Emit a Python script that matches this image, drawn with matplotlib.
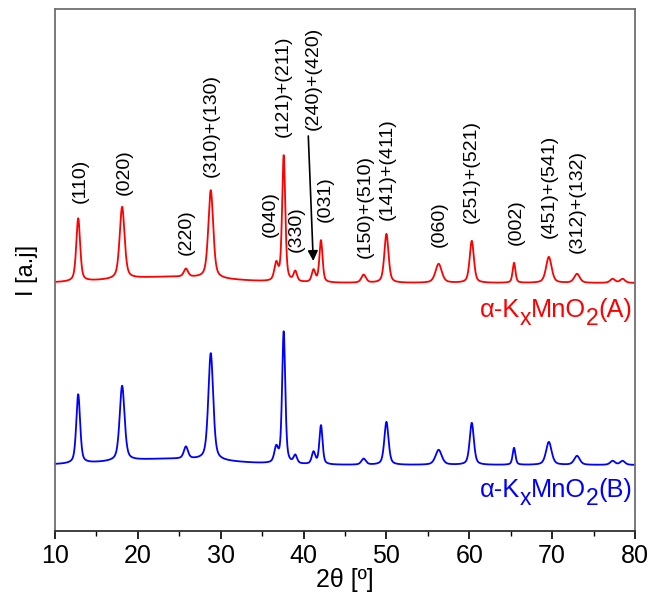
import numpy as np
import matplotlib
matplotlib.use("Agg")
import matplotlib.pyplot as plt
from matplotlib.ticker import MultipleLocator
from matplotlib.transforms import offset_copy

plt.rcParams['font.family'] = ['Liberation Sans', 'DejaVu Sans']

# Peak positions (2theta, degrees)
peak_pos = [12.8, 18.1, 25.8, 28.8, 36.7, 37.6, 39.0, 41.2, 42.1, 47.25,
            50.0, 56.3, 60.3, 65.4, 69.6, 73.0, 77.3, 78.5]
peak_fwhm = [0.55, 0.7, 0.6, 0.7, 0.55, 0.45, 0.5, 0.5, 0.45, 0.65,
             0.6, 0.9, 0.6, 0.4, 0.8, 0.8, 0.7, 0.7]
red_heights = [63, 72, 8, 88, 17, 126, 10, 12, 42, 8,
               49, 19, 42, 20, 26, 9, 4, 4]
blue_heights = [69, 75, 12, 107, 15, 132, 8, 12, 39, 6,
                43, 15, 42, 17, 23, 9, 4, 4]
# broad background hump (position, fwhm, height)
hump = (24.0, 16.0, 6.0)
red_base = 248
blue_base = 66

labels = ['(110)', '(020)', '(220)', '(310)+(130)', '(040)', '(121)+(211)',
          '(330)', '(240)+(420)', '(031)', '(150)+(510)', '(141)+(411)',
          '(060)', '(251)+(521)', '(002)', '(451)+(541)', '(312)+(132)']
label_x = [13.0, 18.3, 25.9, 28.9, 35.95, 37.55, 39.17, 41.14, 42.58, 47.41,
           50.1, 56.38, 60.29, 65.64, 69.65, 73.08]
label_y = [328, 336, 276, 354, 294, 394, 279, 401, 309, 273,
           311, 284, 308, 286, 293, 278]

DPI = 100


def pattern(x, heights, base):
    y = np.full_like(x, float(base))
    for p, w, h in zip(peak_pos, peak_fwhm, heights):
        g = (w / 2) ** 2
        lor = g / ((x - p) ** 2 + g)
        gau = np.exp(-4 * np.log(2) * (x - p) ** 2 / w ** 2)
        y += h * (0.5 * gau + 0.5 * lor)
    hp, hw, hh = hump
    y += hh * np.exp(-4 * np.log(2) * (x - hp) ** 2 / hw ** 2)
    return y


def rich_label(fig, ax, x, y, pieces, color, fontsize):
    renderer = fig.canvas.get_renderer()
    texts = []
    for s, sub in pieces:
        fs = fontsize * (0.9 if sub else 1.0)
        t = ax.text(x, y, s, fontsize=fs, color=color, ha='left', va='baseline')
        texts.append(t)
    widths = [t.get_window_extent(renderer).width for t in texts]
    cur = -sum(widths)
    for t, w, (s, sub) in zip(texts, widths, pieces):
        dy = -8.0 if sub else 0.0
        t.set_transform(offset_copy(ax.transData, fig=fig, x=cur * 72 / DPI,
                                    y=dy * 72 / DPI, units='points'))
        cur += w


x = np.linspace(10, 80, 4000)

fig = plt.figure(figsize=(6.51, 5.92), dpi=DPI)
ax = fig.add_axes([55 / 651, 1 - 531 / 592, 580 / 651, 522 / 592])

ax.plot(x, pattern(x, red_heights, red_base), color='#ff0000', lw=1.3)
ax.plot(x, pattern(x, blue_heights, blue_base), color='#0000ff', lw=1.3)

for lab, lx, ly in zip(labels, label_x, label_y):
    ax.text(lx, ly, lab, rotation=90, ha='center', va='bottom', fontsize=14)

ax.annotate('', xy=(41.17, 270), xytext=(40.57, 395),
            arrowprops=dict(arrowstyle='-|>', color='black', lw=1.2,
                            mutation_scale=15, shrinkA=0, shrinkB=0))

ax.set_xlim(10, 80)
ax.set_ylim(0, 522)

rich_label(fig, ax, 79.72, 214,
           [('α-K', False), ('x', True), ('MnO', False), ('2', True), ('(A)', False)],
           '#ff0000', 18.3)
rich_label(fig, ax, 79.72, 34,
           [('α-K', False), ('x', True), ('MnO', False), ('2', True), ('(B)', False)],
           '#0000ff', 18.3)

ax.xaxis.set_major_locator(MultipleLocator(10))
ax.xaxis.set_minor_locator(MultipleLocator(5))
ax.tick_params(axis='x', which='major', direction='out', length=6, width=1.2,
               labelsize=18, colors='black')
ax.tick_params(axis='x', which='minor', direction='out', length=3.5, width=1.0)
ax.set_yticks([])
for s in ax.spines.values():
    s.set_color('#707070')
    s.set_linewidth(1.3)
ax.spines['bottom'].set_color('#303030')

ax.set_xlabel('2θ [º]', fontsize=18, labelpad=0)
ax.set_ylabel('I [a.j]', fontsize=17, labelpad=12)

fig.savefig('out.png', dpi=DPI)
